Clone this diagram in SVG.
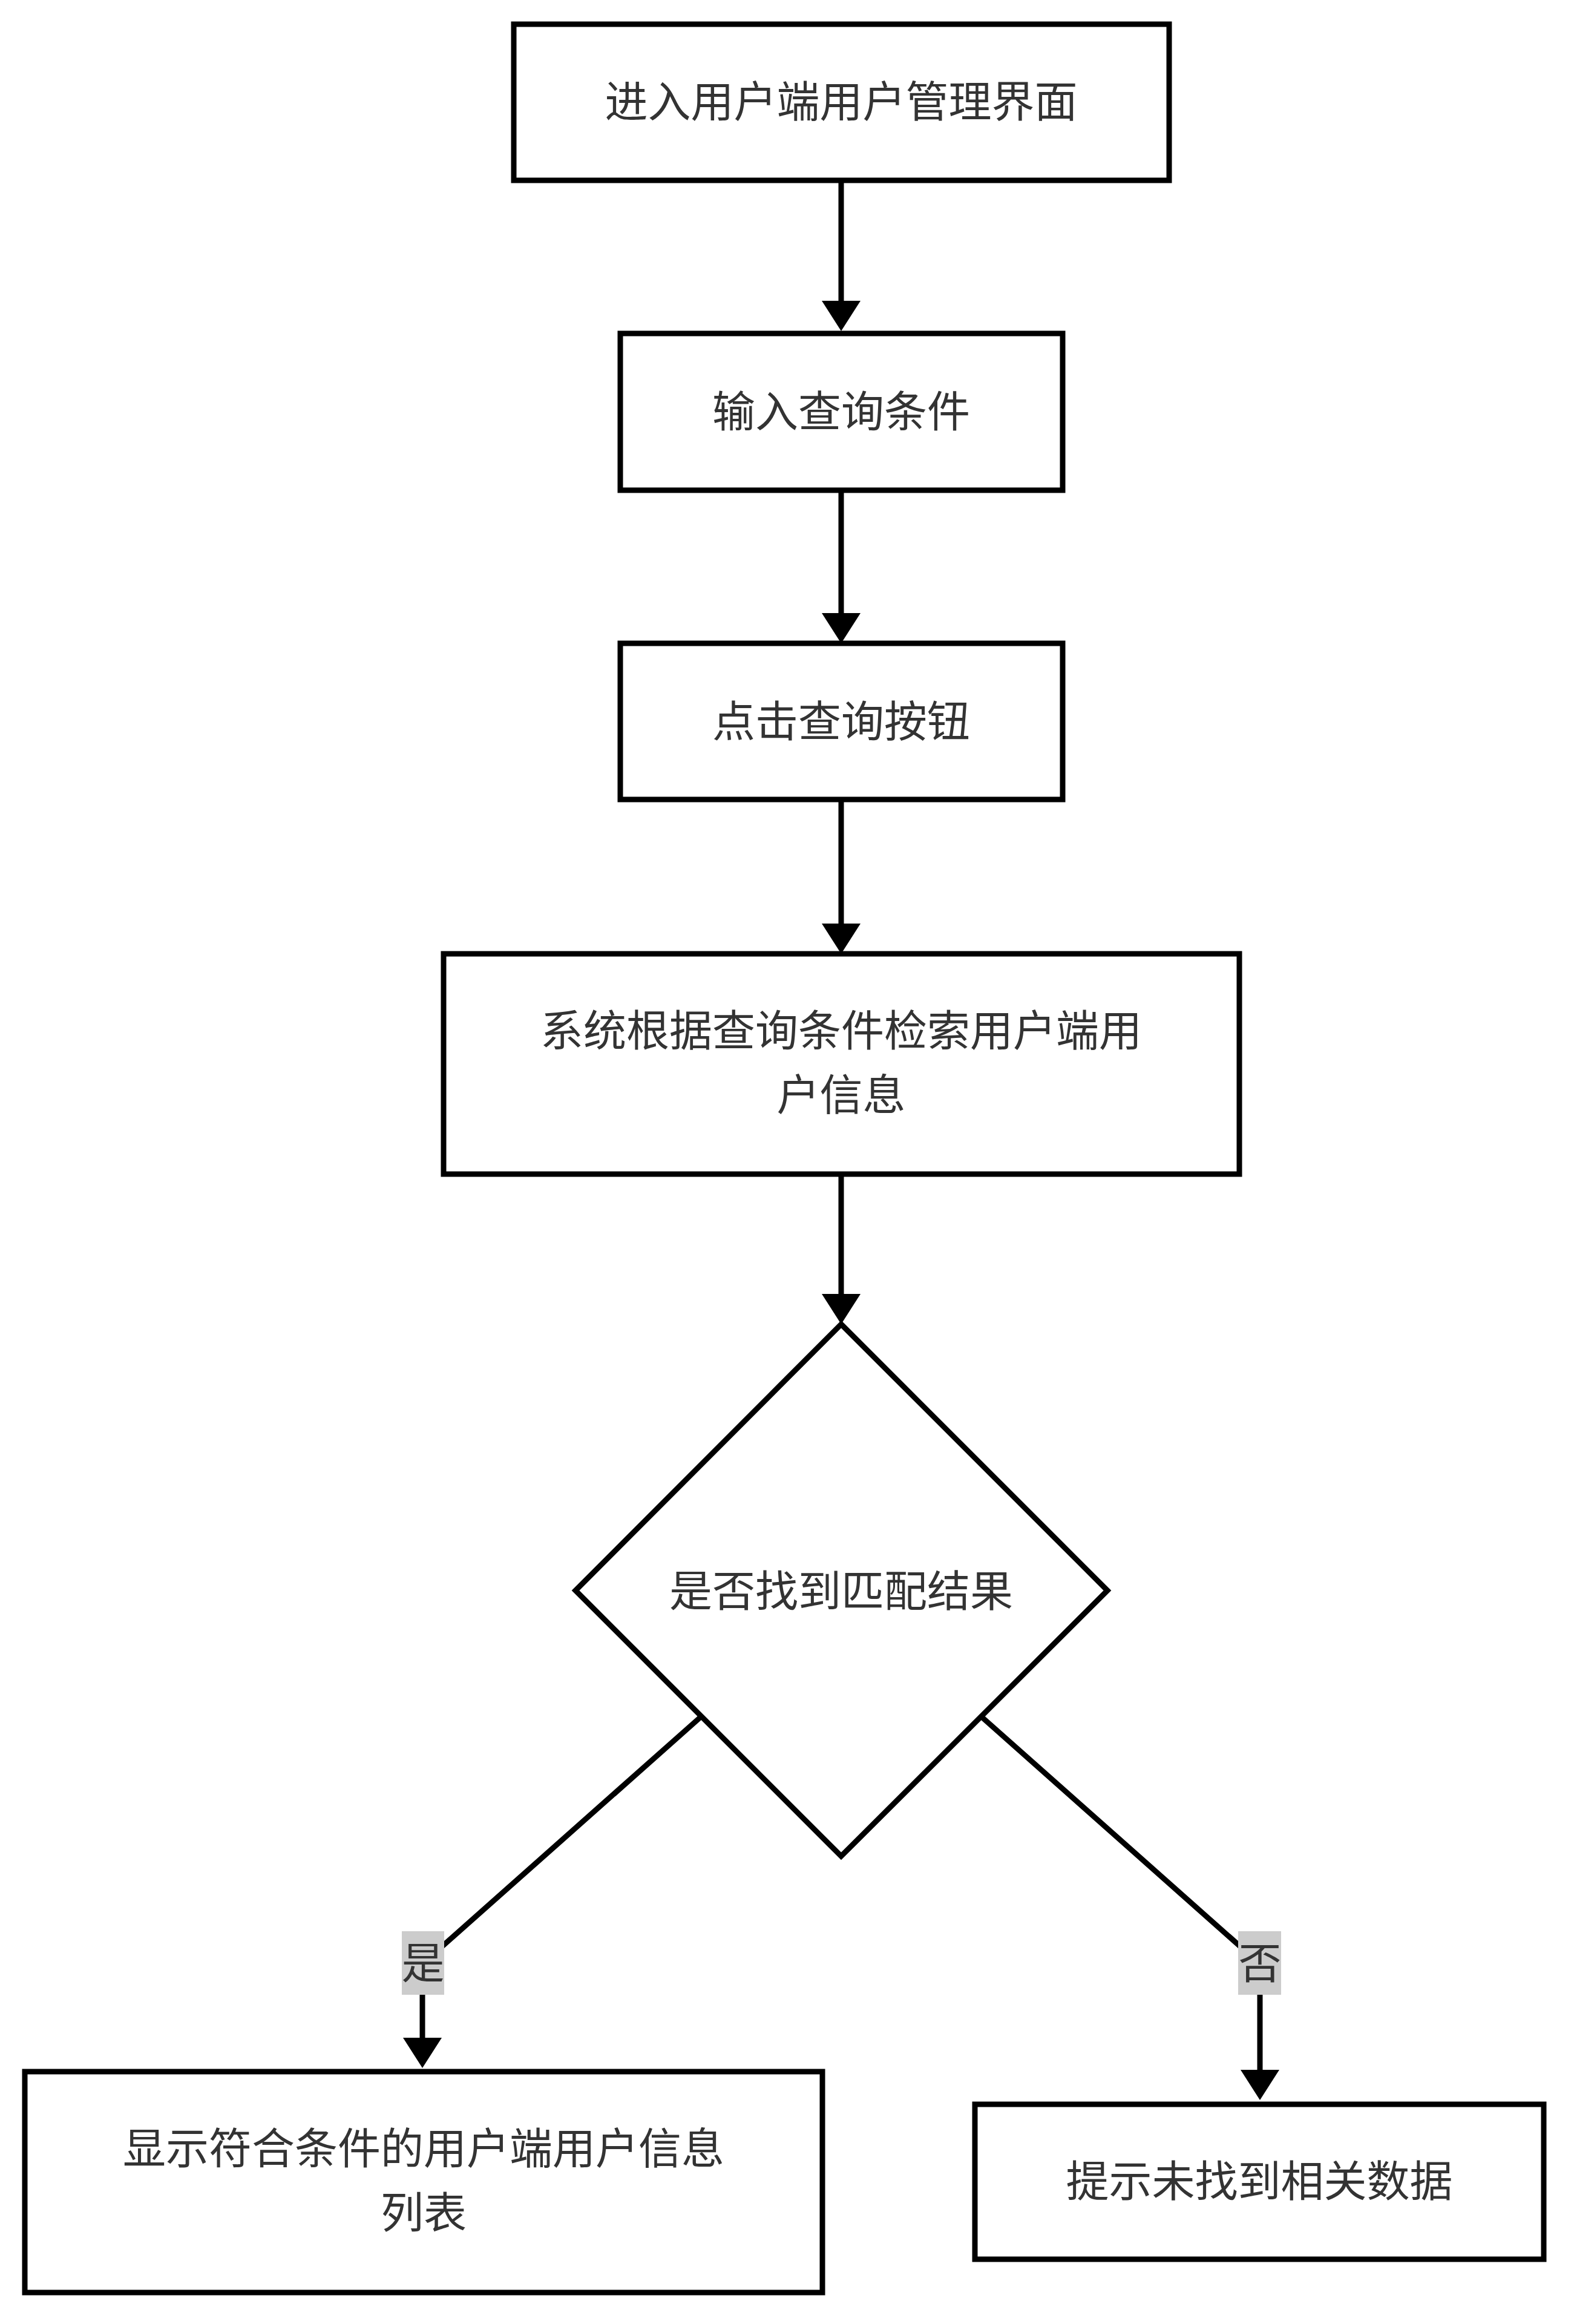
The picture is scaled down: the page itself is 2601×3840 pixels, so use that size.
<svg xmlns="http://www.w3.org/2000/svg" width="2601" height="3840" viewBox="0 0 2601 3840">
<defs>
<style>
.box{fill:#fff;stroke:#000;stroke-width:9}
.t{font-family:"Noto Sans CJK SC","Noto Sans",sans-serif;font-size:71px;fill:#333;text-anchor:middle;dominant-baseline:central}
.c{fill:none;stroke:#000;stroke-width:9}
.lb{fill:#ccc}
</style>
<marker id="ah" markerUnits="userSpaceOnUse" markerWidth="52" markerHeight="64" refX="2" refY="32" orient="auto" viewBox="0 0 52 64">
<path d="M0,0 L50,32 L0,64 z" fill="#000"/>
</marker>
</defs>
<rect width="2601" height="3840" fill="#fff"/>
<g id="connectors">
<path class="c" d="M1390,299 L1390,499" marker-end="url(#ah)"/>
<path class="c" d="M1390,810 L1390,1015" marker-end="url(#ah)"/>
<path class="c" d="M1390,1321 L1390,1528" marker-end="url(#ah)"/>
<path class="c" d="M1390,1940 L1390,2140" marker-end="url(#ah)"/>
<path class="c" d="M1159,2836 L698,3245 L698,3369" marker-end="url(#ah)"/>
<path class="c" d="M1620,2835 L2082,3245 L2082,3422" marker-end="url(#ah)"/>
<rect class="lb" x="664" y="3191" width="70" height="105"/>
<text class="t" x="699" y="3238">是</text>
<rect class="lb" x="2046" y="3191" width="71" height="105"/>
<text class="t" x="2082" y="3238">否</text>
</g>
<g id="n1">
<rect class="box" x="849" y="40" width="1083" height="258"/>
<text class="t" x="1390" y="162">进入用户端用户管理界面</text>
</g>
<g id="n2">
<rect class="box" x="1025" y="551" width="731" height="259"/>
<text class="t" x="1390" y="674">输入查询条件</text>
</g>
<g id="n3">
<rect class="box" x="1025" y="1063" width="731" height="258"/>
<text class="t" x="1390" y="1186">点击查询按钮</text>
</g>
<g id="n4">
<rect class="box" x="733" y="1576" width="1315" height="364"/>
<text class="t" x="1390" y="1697">系统根据查询条件检索用户端用</text>
<text class="t" x="1390" y="1803">户信息</text>
</g>
<g id="n5">
<polygon class="box" points="1390,2188 1830,2628 1390,3067 951,2628"/>
<text class="t" x="1390" y="2623">是否找到匹配结果</text>
</g>
<g id="n6">
<rect class="box" x="41" y="3423" width="1318" height="365"/>
<text class="t" x="700" y="3544">显示符合条件的用户端用户信息</text>
<text class="t" x="700" y="3650">列表</text>
</g>
<g id="n7">
<rect class="box" x="1611" y="3477" width="940" height="256"/>
<text class="t" x="2081" y="3598">提示未找到相关数据</text>
</g>
</svg>
